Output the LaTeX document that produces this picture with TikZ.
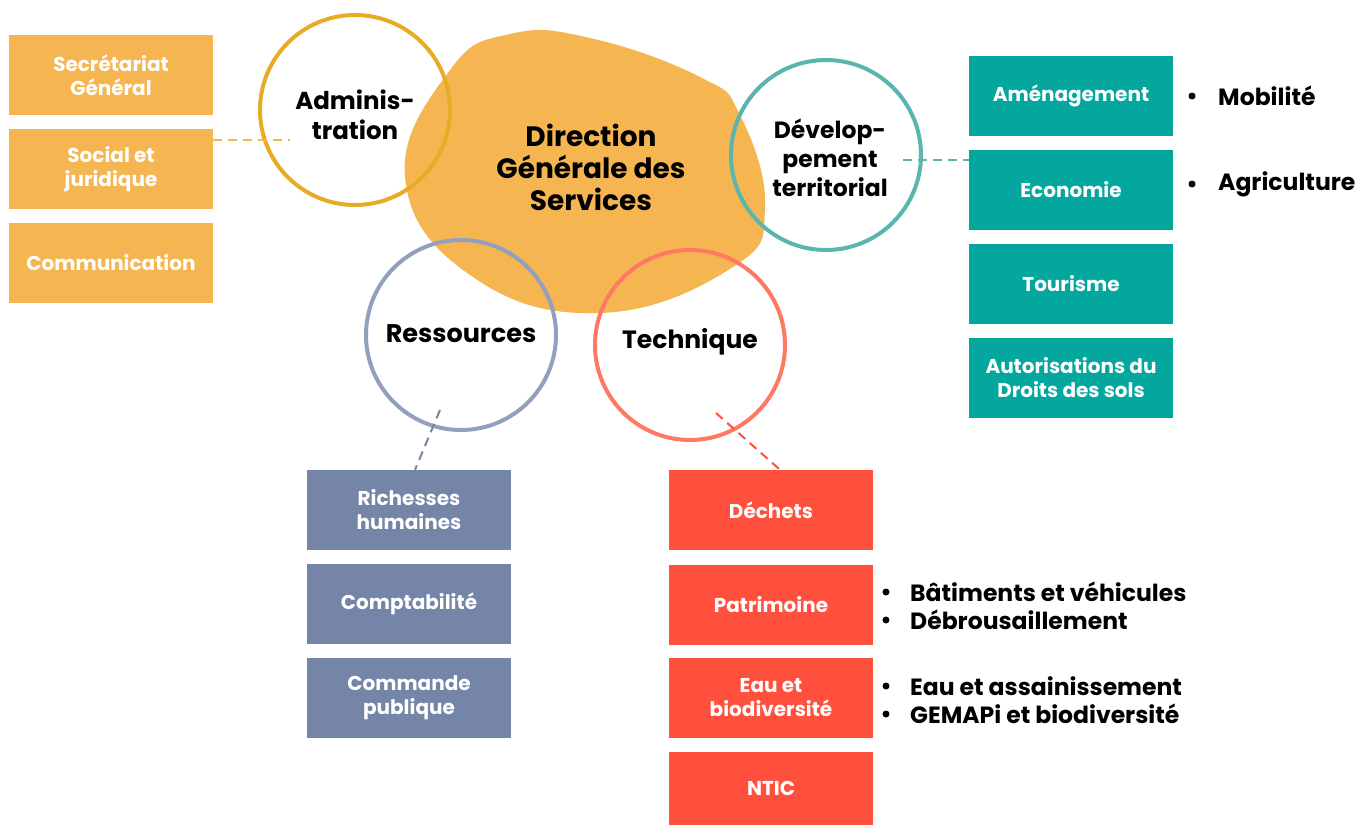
\documentclass[tikz,border=0pt]{standalone}
\usepackage{fontspec}
\setmainfont{Poppins}
\definecolor{orng}{HTML}{F5B651}
\definecolor{gold}{HTML}{E6AC25}
\definecolor{tealbox}{HTML}{04A79D}
\definecolor{tealc}{HTML}{5AB5AE}
\definecolor{bluebox}{HTML}{7585A7}
\definecolor{bluec}{HTML}{939FBF}
\definecolor{redbox}{HTML}{FF4F3D}
\definecolor{redc}{HTML}{FF7863}
\begin{document}
\begin{tikzpicture}[x=1pt,y=-1pt,
  box/.style={minimum width=204pt,minimum height=80pt,inner sep=0pt,text=white,
    font=\fontsize{20}{24}\selectfont\bfseries,align=center},
  ring/.style={circle,line width=4pt,minimum size=190pt,inner sep=0pt},
  lbl/.style={font=\fontsize{24.5}{30}\selectfont\bfseries,align=center,text=black},
  link/.style={dashed,line width=2pt,dash pattern=on 9pt off 6pt},
  item/.style={anchor=west,font=\fontsize{23.5}{28}\selectfont\bfseries,align=left,inner sep=0pt}
]
\useasboundingbox (0,0) rectangle (1360,825);
% blob
\fill[orng] plot[smooth cycle,tension=0.75] coordinates {
 (510,34) (590,38) (700,77) (740,115) (765,207) (733,267) (600,313) (470,275) (405,177) (450,70)};
\node[lbl,font=\fontsize{28}{32}\selectfont\bfseries] (dgs) at (591,167) {Direction\\Générale des\\Services};
% circles
\node[ring,draw=gold] (adm) at (355,110) {};
\node[lbl] (admt) at (355,115) {Adminis-\\tration};
\node[ring,draw=tealc] (dev) at (826,155) {};
\node[lbl,font=\fontsize{23.5}{29}\selectfont\bfseries] (devt) at (830,158) {Dévelop-\\pement\\territorial};
\node[ring,draw=bluec] (res) at (461,335) {};
\node[lbl,font=\fontsize{25.5}{30}\selectfont\bfseries] (rest) at (461,334) {Ressources};
\node[ring,draw=redc] (tec) at (690,345) {};
\node[lbl,font=\fontsize{25}{30}\selectfont\bfseries] (tect) at (690,342) {Technique};
% left boxes
\node[box,fill=orng] (sg) at (111,75) {Secrétariat\\Général};
\node[box,fill=orng] (sj) at (111,169) {Social et\\juridique};
\node[box,fill=orng] (com) at (111,263) {Communication};
% teal boxes
\node[box,fill=tealbox] (ame) at (1071,96) {Aménagement};
\node[box,fill=tealbox] (eco) at (1071,190) {Economie};
\node[box,fill=tealbox] (tou) at (1071,284) {Tourisme};
\node[box,fill=tealbox] (aut) at (1071,378) {Autorisations du\\Droits des sols};
% blue boxes
\node[box,fill=bluebox] (rh) at (409,510) {Richesses\\humaines};
\node[box,fill=bluebox] (cpt) at (409,604) {Comptabilité};
\node[box,fill=bluebox] (cp) at (409,698) {Commande\\publique};
% red boxes
\node[box,fill=redbox] (dec) at (771,510) {Déchets};
\node[box,fill=redbox] (pat) at (771,605) {Patrimoine};
\node[box,fill=redbox] (eau) at (771,698) {Eau et\\biodiversité};
\node[box,fill=redbox,minimum height=73pt] (ntic) at (771,788.5) {NTIC};
% connectors
\coordinate (a1) at (290,140);
\draw[link,draw=orng] (sj.east|-a1) -- (a1);
\coordinate (d1) at (903,160);
\draw[link,draw=tealc] (d1) -- (eco.west|-d1);
\coordinate (r1) at (440,410);
\draw[link,draw=bluebox] (r1) -- (rh.north-|415,0);
\coordinate (t1) at (716,413);
\draw[link,draw=redbox] (t1) -- (dec.north-|780,0);
% bullets
\foreach \y/\t/\n in {96/Mobilité/b1,184/Agriculture/b2}{
  \fill (1192,\y) circle (3.5pt);
  \node[item] (\n) at (1218,\y) {\t};
}
\foreach \y/\t/\n in {592/Bâtiments et véhicules/c1,620/Débrousaillement/c2,686/Eau et assainissement/c3,714/GEMAPi et biodiversité/c4}{
  \fill (886,\y) circle (3.5pt);
  \node[item] (\n) at (910,\y) {\t};
}
\end{tikzpicture}
\end{document}
